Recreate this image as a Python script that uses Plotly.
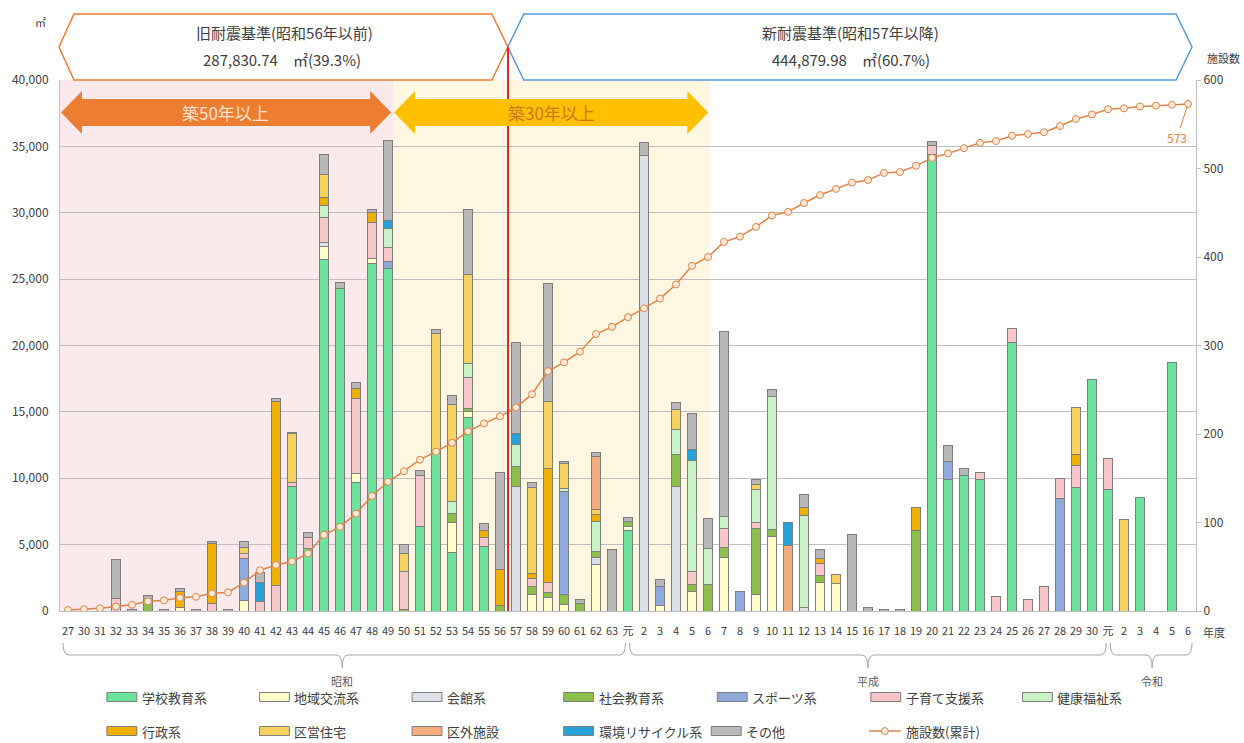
import plotly.graph_objects as go

FONT = "Noto Sans CJK JP"
TEXT = "#404040"

# ---------------- 年度 ----------------
showa_labels = ["27", "30", "31", "32", "33", "34", "35", "36", "37", "38",
                "39", "40", "41", "42", "43", "44", "45", "46", "47", "48",
                "49", "50", "51", "52", "53", "54", "55", "56", "57", "58",
                "59", "60", "61", "62", "63"]
heisei_labels = ["元", "2", "3", "4", "5", "6", "7", "8", "9", "10",
                 "11", "12", "13", "14", "15", "16", "17", "18", "19", "20",
                 "21", "22", "23", "24", "25", "26", "27", "28", "29", "30"]
reiwa_labels = ["元", "2", "3", "4", "5", "6"]
year_labels = showa_labels + heisei_labels + reiwa_labels

# ---------------- 用途別 延床面積(㎡) ----------------
# 各リスト: 昭和(35) / 平成(30) / 令和(6)
school = [0, 0, 0, 0, 0, 0, 0, 0, 0, 0, 0, 0, 0, 0, 9400, 4700, 26500, 24300, 9700, 26200,
          25800, 0, 6400, 11900, 4400, 14550, 4850, 0, 0, 0, 0, 0, 0, 0, 0,
          6050, 0, 0, 0, 0, 0, 0, 0, 0, 0, 0, 0, 0, 0, 0, 0, 0, 0, 0, 34400,
          9870, 10240, 9870, 0, 20250, 0, 0, 0, 9300, 17450,
          9170, 0, 8580, 0, 18750, 0]
community = [0, 0, 0, 0, 0, 0, 0, 300, 0, 0, 0, 800, 0, 0, 0, 0, 950, 0, 650, 350,
             0, 0, 0, 0, 2260, 500, 0, 0, 0, 1280, 1000, 500, 0, 3500, 0,
             350, 0, 450, 0, 1500, 0, 4000, 0, 1280, 5650, 0, 0, 2180, 2050, 0, 0, 0, 0, 0, 0,
             0, 0, 0, 0, 0, 0, 0, 0, 0, 0,
             0, 0, 0, 0, 0, 0]
hall = [0, 0, 0, 0, 0, 0, 0, 0, 0, 0, 0, 0, 0, 0, 0, 0, 300, 0, 0, 0,
        0, 0, 0, 0, 0, 0, 0, 0, 9400, 0, 0, 0, 0, 500, 0,
        0, 34300, 0, 9400, 0, 0, 0, 0, 0, 0, 0, 250, 0, 0, 0, 0, 0, 0, 0, 0,
        0, 0, 0, 0, 0, 0, 0, 0, 0, 0,
        0, 0, 0, 0, 0, 0]
social_edu = [0, 0, 0, 0, 0, 700, 0, 0, 0, 0, 0, 0, 0, 0, 0, 0, 0, 0, 0, 0,
              0, 150, 0, 0, 680, 200, 0, 400, 1500, 600, 380, 750, 600, 450, 0,
              350, 0, 0, 2400, 500, 2030, 750, 0, 4900, 500, 0, 0, 500, 0, 0, 0, 0, 0, 6100, 0,
              0, 0, 0, 0, 0, 0, 0, 0, 0, 0,
              0, 0, 0, 0, 0, 0]
sports = [0, 0, 0, 0, 0, 0, 0, 0, 0, 0, 0, 3150, 0, 0, 0, 0, 0, 0, 0, 0,
          530, 0, 0, 0, 0, 0, 0, 0, 0, 0, 0, 7760, 0, 0, 0,
          0, 0, 1360, 0, 0, 0, 0, 1500, 0, 0, 0, 0, 0, 0, 0, 0, 0, 0, 0, 0,
          1380, 0, 0, 0, 0, 0, 0, 8500, 0, 0,
          0, 0, 0, 0, 0, 0]
childcare = [0, 0, 0, 950, 0, 0, 0, 0, 0, 600, 0, 400, 700, 1900, 300, 850, 1900, 0, 5650, 2700,
             1050, 2850, 3770, 0, 0, 2330, 700, 0, 0, 600, 750, 0, 0, 0, 0,
             0, 0, 0, 0, 1000, 0, 1500, 0, 450, 0, 0, 0, 900, 0, 0, 0, 0, 0, 0, 680,
             0, 0, 530, 1130, 1000, 830, 1880, 1500, 1630, 0,
             2300, 0, 0, 0, 0, 0]
welfare = [0, 0, 0, 0, 0, 250, 0, 0, 0, 0, 0, 0, 0, 0, 0, 0, 900, 0, 0, 0,
           1430, 0, 0, 0, 900, 1050, 0, 0, 1660, 0, 0, 200, 0, 2300, 0,
           0, 0, 0, 1880, 8300, 2700, 900, 0, 2560, 10000, 0, 6930, 0, 0, 0, 0, 0, 0, 0, 0,
           0, 0, 0, 0, 0, 0, 0, 0, 0, 0,
           0, 0, 0, 0, 0, 0]
admin = [0, 0, 0, 0, 0, 0, 0, 1200, 0, 4450, 0, 0, 0, 13900, 0, 0, 600, 0, 750, 750,
         0, 0, 0, 0, 0, 0, 530, 2700, 0, 380, 8580, 0, 0, 500, 0,
         0, 0, 0, 0, 0, 0, 0, 0, 0, 0, 0, 600, 380, 0, 0, 0, 0, 0, 1730, 0,
         0, 0, 0, 0, 0, 0, 0, 0, 880, 0,
         0, 0, 0, 0, 0, 0]
housing = [0, 0, 0, 0, 0, 0, 0, 0, 0, 0, 0, 400, 0, 0, 3650, 0, 1750, 0, 0, 0,
           0, 1300, 0, 9040, 7300, 6700, 0, 0, 0, 6480, 5040, 1880, 0, 400, 0,
           0, 0, 0, 1500, 0, 0, 0, 0, 350, 0, 0, 0, 0, 700, 0, 0, 0, 0, 0, 0,
           0, 0, 0, 0, 0, 0, 0, 0, 3500, 0,
           0, 6930, 0, 0, 0, 0]
outside = [0, 0, 0, 0, 0, 0, 0, 0, 0, 0, 0, 0, 0, 0, 0, 0, 0, 0, 0, 0,
           0, 0, 0, 0, 0, 0, 0, 0, 0, 0, 0, 0, 0, 4000, 0,
           0, 0, 0, 0, 0, 0, 0, 0, 0, 0, 4950, 0, 0, 0, 0, 0, 0, 0, 0, 0,
           0, 0, 0, 0, 0, 0, 0, 0, 0, 0,
           0, 0, 0, 0, 0, 0]
recycle = [0, 0, 0, 0, 0, 0, 0, 0, 0, 0, 0, 0, 1450, 0, 0, 0, 0, 0, 0, 0,
           600, 0, 0, 0, 0, 0, 0, 0, 830, 0, 0, 0, 0, 0, 0,
           0, 0, 0, 0, 880, 0, 0, 0, 0, 0, 1750, 0, 0, 0, 0, 0, 0, 0, 0, 0,
           0, 0, 0, 0, 0, 0, 0, 0, 0, 0,
           0, 0, 0, 0, 0, 0]
others = [0, 0, 0, 2900, 80, 250, 100, 230, 80, 150, 100, 450, 750, 200, 130, 400, 1500, 450, 450, 250,
          6000, 700, 380, 300, 680, 4900, 530, 7350, 6850, 330, 8890, 200, 300, 300, 4650,
          330, 1000, 600, 500, 2700, 2260, 13930, 0, 400, 500, 0, 980, 680, 0, 5800, 250, 100, 80, 0, 300,
          1250, 530, 0, 0, 0, 0, 0, 0, 0, 0,
          0, 0, 0, 0, 0, 0]

# 施設数(累計)
facility_total = [1, 2, 3, 5, 7, 11, 12, 15, 16, 20, 21, 32, 46, 52, 56, 65, 86, 95, 110, 130,
                  146, 158, 171, 180, 190, 203, 212, 220, 230, 245, 271, 281, 293, 313, 321,
                  332, 342, 353, 369, 390, 400, 417, 423, 434, 447, 451, 461, 470, 477, 484,
                  487, 495, 496, 503, 512, 517, 523, 529, 531, 537, 539, 541, 548, 556, 561,
                  567, 568, 570, 571, 572, 573]

series_names = ["学校教育系", "地域交流系", "会館系", "社会教育系", "スポーツ系", "子育て支援系",
                "健康福祉系", "行政系", "区営住宅", "区外施設", "環境リサイクル系", "その他"]
series_values = [school, community, hall, social_edu, sports, childcare,
                 welfare, admin, housing, outside, recycle, others]
series_colors = ["#6BE39B", "#FFFFCC", "#DCE1E8", "#8CC04B", "#8FA9DC", "#F6C6C9",
                 "#C9F2C7", "#F0B000", "#F5D35E", "#F4AD80", "#26A2D8", "#B9B7B7"]
line_name = "施設数(累計)"
line_color = "#DE8447"

# ---------------- 描画領域(px) ----------------
W, H = 1244, 743
PL, PR, PT, PB = 57, 1196, 80, 611


def fx(px):
    return (px - PL) / (PR - PL)


def fy(py):
    return (PB - py) / (PB - PT)


def poly(points):
    return "M " + " L ".join(f"{fx(a):.5f},{fy(b):.5f}" for a, b in points) + " Z"


x = list(range(len(year_labels)))

fig = go.Figure()
for name, vals, color in zip(series_names, series_values, series_colors):
    fig.add_trace(go.Bar(
        x=x, y=vals, name=name, width=0.56,
        marker=dict(color=color, line=dict(color="#7E7E7E", width=1)),
        hovertemplate=name + ": %{y:,}㎡<extra></extra>",
    ))

fig.add_trace(go.Scatter(
    x=x, y=facility_total, yaxis="y2", name=line_name, mode="lines+markers",
    line=dict(color=line_color, width=1.5),
    marker=dict(size=7, color="#FCE9DA", line=dict(color=line_color, width=1)),
))

shapes = []
annotations = []

# 築年数ゾーンの背景
shapes.append(dict(type="rect", xref="x", yref="paper", x0=-0.5, x1=20.35, y0=0, y1=1,
                   fillcolor="#FAEAEB", line=dict(width=0), layer="below"))
shapes.append(dict(type="rect", xref="x", yref="paper", x0=20.35, x1=40.1, y0=0, y1=1,
                   fillcolor="#FFF7E1", line=dict(width=0), layer="below"))

# 旧耐震 / 新耐震 の見出し枠
shapes.append(dict(type="path", xref="paper", yref="paper",
                   path=poly([(56, 47), (71, 14), (490, 14), (506, 47), (490, 80), (71, 80)]),
                   fillcolor="white", line=dict(color="#ED7D31", width=1.5), layer="above"))
shapes.append(dict(type="path", xref="paper", yref="paper",
                   path=poly([(506, 47), (522, 14), (1176, 14), (1192, 47), (1176, 80), (522, 80)]),
                   fillcolor="white", line=dict(color="#5B9BD5", width=1.5), layer="above"))

# 昭和56年/57年の境界線
shapes.append(dict(type="line", xref="x", yref="paper", x0=27.5, x1=27.5, y0=0, y1=fy(47),
                   line=dict(color="#E3262A", width=2), layer="above"))

# 築50年以上 / 築30年以上 の両矢印
def double_arrow(x0, x1, yc, head=21, half_head=21.5, half_shaft=13.5):
    return poly([(x0, yc), (x0 + head, yc - half_head), (x0 + head, yc - half_shaft),
                 (x1 - head, yc - half_shaft), (x1 - head, yc - half_head), (x1, yc),
                 (x1 - head, yc + half_head), (x1 - head, yc + half_shaft),
                 (x0 + head, yc + half_shaft), (x0 + head, yc + half_head)])


shapes.append(dict(type="path", xref="paper", yref="paper", path=double_arrow(58, 389, 112.5),
                   fillcolor="#ED7D31", line=dict(width=0), layer="above"))
shapes.append(dict(type="path", xref="paper", yref="paper", path=double_arrow(392, 707, 112.5),
                   fillcolor="#FFC000", line=dict(width=0), layer="above"))


def note(text, px, py, size=12, color=TEXT, xanchor="center"):
    annotations.append(dict(text=text, x=fx(px), y=fy(py), xref="paper", yref="paper",
                            showarrow=False, xanchor=xanchor, yanchor="middle",
                            font=dict(family=FONT, size=size, color=color)))


note("築50年以上", 223, 112.5, size=17, color="#FBE3D3")
note("築30年以上", 550, 112.5, size=17, color="#C97A16")

note("旧耐震基準(昭和56年以前)", 282, 33, size=15)
note("287,830.74　㎡(39.3%)", 280, 59, size=15)
note("新耐震基準(昭和57年以降)", 850, 33, size=15)
note("444,879.98　㎡(60.7%)", 850, 59, size=15)

note("㎡", 37, 22, size=11)
note("施設数", 1224, 58, size=11)
note("年度", 1214, 632, size=11)

# 元号の括弧
def brace(x0, xc, x1, top=643, mid=655, bot=668, r=6):
    return (f"M {fx(x0):.5f},{fy(top):.5f} Q {fx(x0):.5f},{fy(mid):.5f} {fx(x0 + r):.5f},{fy(mid):.5f} "
            f"L {fx(xc - r):.5f},{fy(mid):.5f} Q {fx(xc):.5f},{fy(mid):.5f} {fx(xc):.5f},{fy(bot):.5f} "
            f"Q {fx(xc):.5f},{fy(mid):.5f} {fx(xc + r):.5f},{fy(mid):.5f} "
            f"L {fx(x1 - r):.5f},{fy(mid):.5f} Q {fx(x1):.5f},{fy(mid):.5f} {fx(x1):.5f},{fy(top):.5f}")


for (x0, xc, x1), era in [((60, 340, 624), "昭和"), ((628, 867, 1106), "平成"), ((1110, 1152, 1192), "令和")]:
    shapes.append(dict(type="path", xref="paper", yref="paper", path=brace(x0, xc, x1),
                       line=dict(color="#A6A6A6", width=1)))
    note(era, xc, 681, size=11, color="#595959")

# 凡例
legend_pos = [(104, 697), (257, 697), (410, 697), (562, 697), (716, 697), (870, 697), (1022, 697),
              (104, 731), (257, 731), (410, 731), (562, 731), (710, 731)]
for (lx, ly), name, color in zip(legend_pos, series_names, series_colors):
    shapes.append(dict(type="rect", xref="paper", yref="paper",
                       x0=fx(lx), x1=fx(lx + 30), y0=fy(ly + 4.5), y1=fy(ly - 4.5),
                       fillcolor=color, line=dict(color="#7E7E7E", width=1)))
    note(name, lx + 33, ly, size=13, xanchor="left")

shapes.append(dict(type="line", xref="paper", yref="paper", x0=fx(868), x1=fx(900),
                   y0=fy(731), y1=fy(731), line=dict(color=line_color, width=1.5)))
shapes.append(dict(type="circle", xref="paper", yref="paper", x0=fx(880.5), x1=fx(887.5),
                   y0=fy(734.5), y1=fy(727.5), fillcolor="#FCE9DA",
                   line=dict(color=line_color, width=1)))
note(line_name, 903, 731, size=13, xanchor="left")

# 最終年度の施設数ラベル
annotations.append(dict(text=str(facility_total[-1]), x=x[-1], y=facility_total[-1],
                        xref="x", yref="y2", showarrow=True, arrowhead=0, arrowwidth=1,
                        arrowcolor=line_color, ax=-11, ay=34, standoff=3,
                        font=dict(family=FONT, size=12, color=line_color)))

fig.update_layout(
    width=W, height=H,
    margin=dict(l=PL, r=W - PR, t=PT, b=H - PB, pad=0),
    barmode="stack",
    showlegend=False,
    paper_bgcolor="white",
    plot_bgcolor="rgba(0,0,0,0)",
    font=dict(family=FONT, color=TEXT, size=11),
    shapes=shapes,
    annotations=annotations,
    xaxis=dict(range=[-0.5, 70.5], tickmode="array", tickvals=x, ticktext=year_labels,
               showgrid=False, zeroline=False, showline=True, linecolor="#BFBFBF",
               ticks="outside", ticklen=10, tickcolor="rgba(0,0,0,0)",
               tickfont=dict(family=FONT, size=11, color=TEXT), tickangle=0),
    yaxis=dict(range=[0, 40000], dtick=5000, tickformat=",d",
               showgrid=True, gridcolor="#BFBFBF", gridwidth=1, zeroline=False,
               showline=True, linecolor="#BFBFBF",
               ticks="outside", ticklen=8, tickcolor="rgba(0,0,0,0)",
               tickfont=dict(family=FONT, size=12, color=TEXT)),
    yaxis2=dict(range=[0, 600], dtick=100, overlaying="y", side="right",
                showgrid=False, zeroline=False, showline=True, linecolor="#BFBFBF",
                ticks="outside", ticklen=4, tickcolor="#BFBFBF",
                tickfont=dict(family=FONT, size=12, color=TEXT)),
)

fig.write_html("out.html")
